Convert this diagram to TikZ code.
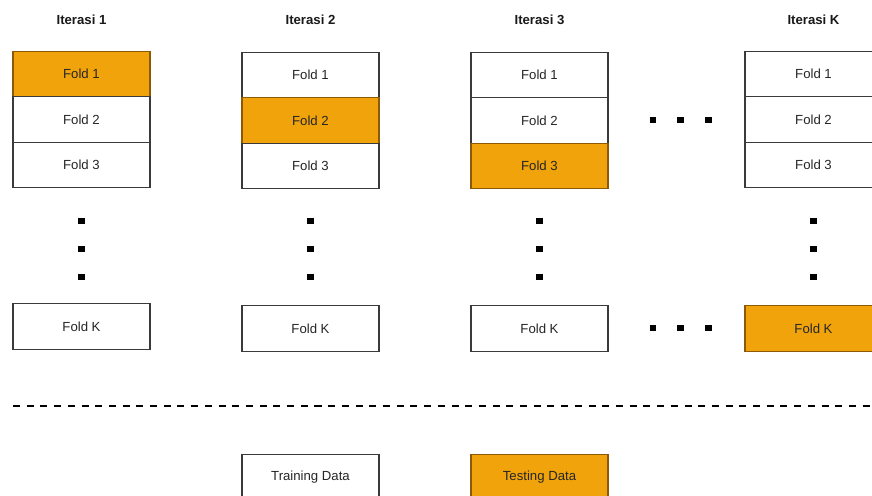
\documentclass[tikz,border=0pt]{standalone}
\usepackage{fontspec}
\setmainfont{Liberation Sans}
\usepackage{xcolor}
\usetikzlibrary{positioning}

\definecolor{foldorange}{HTML}{F0A30A}
\definecolor{foldedge}{HTML}{8C5A06}
\definecolor{foldline}{HTML}{3A3A3A}

\begin{document}
\begin{tikzpicture}[x=0.02cm,y=-0.02cm,font=\fontsize{7.5}{9}\selectfont,
    fold/.style={rectangle,draw=foldline,fill=white,text=black!85,minimum width=2.74cm,minimum height=0.91cm,outer sep=0pt,line width=0.6pt},
    test/.style={fold,draw=foldedge,fill=foldorange},
    title/.style={font=\fontsize{7.5}{9}\selectfont\bfseries,text=black!90},
    dot/.style={rectangle,fill=black,minimum size=0.13cm,inner sep=0pt},
    sep/.style={line width=1.1pt,dash pattern=on 4pt off 3.8pt}]

    \useasboundingbox (0,0) rectangle (872,496);
    \clip (0,0) rectangle (872,496);

    % iterasi 1
    \node[title] (t1) at (81.5,20) {Iterasi 1};
    \node[test] (a1) at (81.5,74) {Fold 1};
    \node[fold, below=0pt of a1] (a2) {Fold 2};
    \node[fold, below=0pt of a2] (a3) {Fold 3};
    \node[fold] (ak) at (81.5,326.5) {Fold K};

    % iterasi 2
    \node[title] (t2) at (310.5,20) {Iterasi 2};
    \node[fold] (b1) at (310.5,75) {Fold 1};
    \node[test, below=0pt of b1] (b2) {Fold 2};
    \node[fold, below=0pt of b2] (b3) {Fold 3};
    \node[fold] (bk) at (310.5,328.5) {Fold K};

    % iterasi 3
    \node[title] (t3) at (539.5,20) {Iterasi 3};
    \node[fold] (c1) at (539.5,75) {Fold 1};
    \node[fold, below=0pt of c1] (c2) {Fold 2};
    \node[test, below=0pt of c2] (c3) {Fold 3};
    \node[fold] (ck) at (539.5,328.5) {Fold K};

    % iterasi K
    \node[title] (t4) at (813.5,20) {Iterasi K};
    \node[fold] (d1) at (813.5,74) {Fold 1};
    \node[fold, below=0pt of d1] (d2) {Fold 2};
    \node[fold, below=0pt of d2] (d3) {Fold 3};
    \node[test] (dk) at (813.5,328.5) {Fold K};

    % titik vertikal
    \node[dot] (va1) at (81.5,221) {};
    \node[dot] (va2) at (81.5,249) {};
    \node[dot] (va3) at (81.5,277) {};
    \node[dot] (vb1) at (310.5,221) {};
    \node[dot] (vb2) at (310.5,249) {};
    \node[dot] (vb3) at (310.5,277) {};
    \node[dot] (vc1) at (539.5,221) {};
    \node[dot] (vc2) at (539.5,249) {};
    \node[dot] (vc3) at (539.5,277) {};
    \node[dot] (vd1) at (813.5,221) {};
    \node[dot] (vd2) at (813.5,249) {};
    \node[dot] (vd3) at (813.5,277) {};

    % titik horizontal
    \node[dot] (ha1) at (653,120) {};
    \node[dot] (ha2) at (680.5,120) {};
    \node[dot] (ha3) at (708.5,120) {};
    \node[dot] (hb1) at (653,328) {};
    \node[dot] (hb2) at (680.5,328) {};
    \node[dot] (hb3) at (708.5,328) {};

    % garis pemisah
    \coordinate (sl) at (13,406);
    \coordinate (sr) at (872,406);
    \draw[sep] (sl) -- (sr);

    % keterangan
    \node[fold] (train) at (310.5,477) {Training Data};
    \node[test] (testd) at (539.5,477) {Testing Data};
\end{tikzpicture}
\end{document}
